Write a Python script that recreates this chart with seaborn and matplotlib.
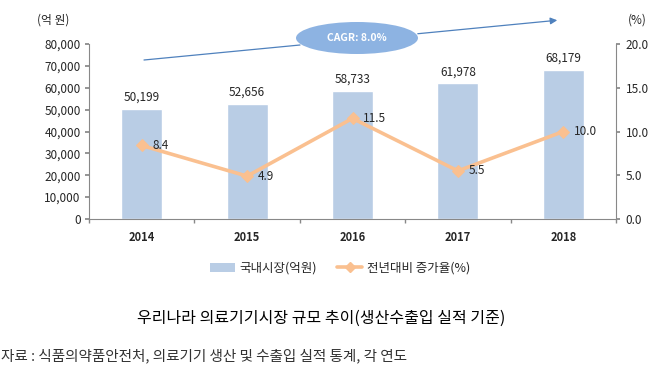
import matplotlib
matplotlib.use("Agg")
import matplotlib.pyplot as plt
from matplotlib.patches import Ellipse, Patch
from matplotlib.lines import Line2D
import numpy as np
import pandas as pd
import seaborn as sns

# Data
years = ["2014", "2015", "2016", "2017", "2018"]
market = [50199, 52656, 58733, 61978, 68179]      # 국내시장(억원)
growth = [8.4, 4.9, 11.5, 5.5, 10.0]               # 전년대비 증가율(%)
left_ticks = list(range(0, 80001, 10000))
right_ticks = [0.0, 5.0, 10.0, 15.0, 20.0]

bar_color = "#B9CDE5"
line_color = "#FAC090"
axis_color = "#888888"

sns.set_theme(style="white")
plt.rcParams["font.family"] = ["Noto Sans CJK KR", "DejaVu Sans"]

df = pd.DataFrame({"year": years, "market": market, "growth": growth})

fig = plt.figure(figsize=(6.61, 3.84), dpi=100)
ax = fig.add_axes([0.1346, 0.4297, 0.932 - 0.1346, 0.8854 - 0.4297])

sns.barplot(data=df, x="year", y="market", color=bar_color, width=0.39,
            saturation=1, ax=ax)
ax.set_ylim(0, 80000)
ax.set_xlim(-0.5, len(years) - 0.5)
ax.set_yticks(left_ticks)
ax.set_yticklabels([f"{v:,}" for v in left_ticks], fontsize=8.5, fontweight="medium")
ax.set_xlabel("")
ax.set_ylabel("")
ax.set_xticks(range(len(years)))
ax.set_xticklabels(years, fontsize=8, fontweight="bold")
ax.tick_params(axis="x", length=0, pad=9)
ax.set_xticks(np.arange(-0.5, len(years) + 0.5, 1), minor=True)
ax.tick_params(axis="x", which="minor", length=3, color=axis_color, direction="out", bottom=True)
ax.tick_params(axis="y", length=3, color=axis_color, direction="out", left=True, pad=3)
for s in ["top", "right"]:
    ax.spines[s].set_visible(False)
for s in ["left", "bottom"]:
    ax.spines[s].set_color(axis_color)
    ax.spines[s].set_linewidth(0.8)

for i, v in enumerate(market):
    ax.text(i, v + 2400, f"{v:,}", ha="center", va="bottom", fontsize=8.5,
            fontweight="medium")

ax2 = ax.twinx()
xpos = np.arange(len(years))
sns.lineplot(x=xpos, y=growth, ax=ax2, color=line_color, linewidth=2.6,
             marker="D", markersize=6, markeredgecolor=line_color)
ax2.set_ylim(0, 20)
ax2.set_yticks(right_ticks)
ax2.set_yticklabels([f"{v:.1f}" for v in right_ticks], fontsize=8.5, fontweight="medium")
ax2.tick_params(axis="y", length=3, color=axis_color, direction="out", right=True, pad=4)
for s in ["top", "left", "bottom"]:
    ax2.spines[s].set_visible(False)
ax2.spines["right"].set_color(axis_color)
ax2.spines["right"].set_linewidth(0.8)
ax2.set_ylabel("")

for i, v in enumerate(growth):
    ax2.text(i + 0.1, v, f"{v:.1f}", ha="left", va="center", fontsize=8.5,
             fontweight="medium")

# axis unit labels
fig.text(37 / 661, 1 - 20 / 384, "(억 원)", ha="left", va="center", fontsize=8.5,
         fontweight="medium")
fig.text(628 / 661, 1 - 20 / 384, "(%)", ha="left", va="center", fontsize=8.5,
         fontweight="medium")

# CAGR arrow
fig.add_artist(Line2D([144 / 661, 300 / 661], [1 - 60 / 384, 1 - 45 / 384],
                      transform=fig.transFigure, color="#4F81BD", lw=0.9))
ax.annotate("", xy=(560 / 661, 1 - 20 / 384), xytext=(415 / 661, 1 - 34 / 384),
            xycoords="figure fraction", textcoords="figure fraction",
            arrowprops=dict(arrowstyle="-|>", color="#4F81BD", lw=0.9,
                            mutation_scale=10))
fig.add_artist(Ellipse((357 / 661, 1 - 38 / 384), 122 / 661, 32 / 384,
                       transform=fig.transFigure, facecolor="#8DB3E2",
                       edgecolor="none"))
fig.text(357 / 661, 1 - 38 / 384, "CAGR: 8.0%", ha="center", va="center",
         fontsize=7.5, color="white", fontweight="bold")

# legend
handles = [Patch(facecolor=bar_color, edgecolor="none"),
           Line2D([0], [0], color=line_color, lw=2.6, marker="D", markersize=5)]
fig.legend(handles, ["국내시장(억원)", "전년대비 증가율(%)"], loc="center",
           bbox_to_anchor=(340 / 661, 1 - 268 / 384), ncol=2, frameon=False,
           prop={"size": 9, "weight": "medium"}, handlelength=2.0,
           handletextpad=0.4, columnspacing=1.6)

fig.text(321 / 661, 1 - 318 / 384, "우리나라 의료기기시장 규모 추이(생산수출입 실적 기준)",
         ha="center", va="center", fontsize=11.5, color="black")
fig.text(1 / 661, 1 - 356 / 384, "자료 : 식품의약품안전처, 의료기기 생산 및 수출입 실적 통계, 각 연도",
         ha="left", va="center", fontsize=10.5, color="#333333")

fig.savefig("out.png", dpi=100)
